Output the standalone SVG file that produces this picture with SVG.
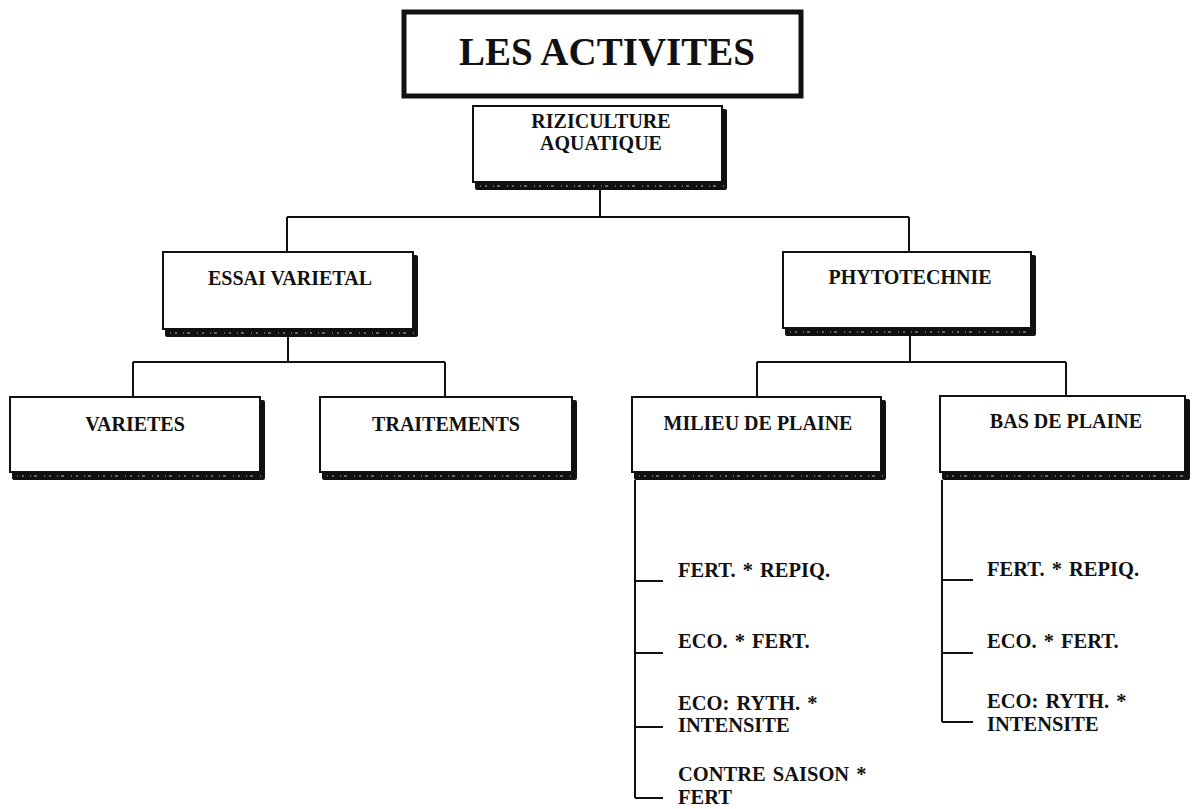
<svg xmlns="http://www.w3.org/2000/svg" width="1193" height="809" viewBox="0 0 1193 809">
  <style>
    .lbl { font-family: "Liberation Serif", "Times New Roman", serif; font-weight: bold; font-size: 20px; fill: #111; }
    .item { font-size: 20.5px; word-spacing: 2px; }
    .ctr { text-anchor: middle; }
    .title { font-family: "Liberation Serif", "Times New Roman", serif; font-weight: bold; font-size: 39px; fill: #111; text-anchor: middle; }
    .box { fill: #fff; stroke: #111; stroke-width: 2; }
    .shadow { fill: #111; }
    .speck { stroke: #bdbdbd; stroke-width: 1; stroke-dasharray: 1 4 2 6 1 3 3 7; fill: none; }
    .wire { stroke: #111; stroke-width: 2; fill: none; }
  </style>
  <rect width="1193" height="809" fill="#fff"/>

  <!-- heading -->
  <g id="title">
    <rect x="404" y="12" width="397" height="84" fill="#fff" stroke="#111" stroke-width="5"/>
    <text class="title" x="607" y="65">LES ACTIVITES</text>
  </g>

  <!-- connectors -->
  <g id="connectors">
    <path class="wire" d="M600 190 V217 M287 217 H909 M287 217 V252 M909 217 V252"/>
    <path class="wire" d="M288 337 V362 M133 362 H445 M133 362 V397 M445 362 V397"/>
    <path class="wire" d="M910 336 V362 M757 362 H1066 M757 362 V397 M1066 362 V396"/>
    <path class="wire" d="M635 480 V798 M635 581 H663 M635 653 H663 M635 727 H663 M635 798 H663"/>
    <path class="wire" d="M942 480 V722 M942 580 H973 M942 653 H973 M942 722 H973"/>
  </g>

  <g id="riziculture">
    <rect class="shadow" x="475" y="109" width="252" height="81" rx="2"/>
    <rect class="box" x="473" y="106" width="249" height="76"/>
    <line class="speck" x1="480" y1="186" x2="724" y2="186"/>
    <text class="lbl ctr" x="601" y="128">RIZICULTURE</text>
    <text class="lbl ctr" x="601" y="150">AQUATIQUE</text>
  </g>

  <g id="essai-varietal">
    <rect class="shadow" x="165" y="255" width="253" height="82" rx="2"/>
    <rect class="box" x="163" y="252" width="250" height="77"/>
    <line class="speck" x1="170" y1="333" x2="415" y2="333"/>
    <text class="lbl ctr" x="290" y="285">ESSAI VARIETAL</text>
  </g>

  <g id="phytotechnie">
    <rect class="shadow" x="785" y="255" width="251" height="81" rx="2"/>
    <rect class="box" x="783" y="252" width="248" height="76"/>
    <line class="speck" x1="790" y1="332" x2="1033" y2="332"/>
    <text class="lbl ctr" x="910" y="284">PHYTOTECHNIE</text>
  </g>

  <g id="varietes">
    <rect class="shadow" x="12" y="400" width="253" height="80" rx="2"/>
    <rect class="box" x="10" y="397" width="250" height="75"/>
    <line class="speck" x1="17" y1="476" x2="262" y2="476"/>
    <text class="lbl ctr" x="135" y="431">VARIETES</text>
  </g>

  <g id="traitements">
    <rect class="shadow" x="322" y="400" width="255" height="80" rx="2"/>
    <rect class="box" x="320" y="397" width="252" height="75"/>
    <line class="speck" x1="327" y1="476" x2="574" y2="476"/>
    <text class="lbl ctr" x="446" y="431">TRAITEMENTS</text>
  </g>

  <g id="milieu-de-plaine">
    <rect class="shadow" x="634" y="400" width="252" height="80" rx="2"/>
    <rect class="box" x="632" y="397" width="249" height="75"/>
    <line class="speck" x1="639" y1="476" x2="883" y2="476"/>
    <text class="lbl ctr" x="758" y="430">MILIEU DE PLAINE</text>
  </g>

  <g id="bas-de-plaine">
    <rect class="shadow" x="942" y="399" width="248" height="81" rx="2"/>
    <rect class="box" x="940" y="396" width="245" height="76"/>
    <line class="speck" x1="947" y1="476" x2="1187" y2="476"/>
    <text class="lbl ctr" x="1066" y="428">BAS DE PLAINE</text>
  </g>

  <g id="milieu-items">
    <text class="lbl item" x="678" y="577">FERT. * REPIQ.</text>
    <text class="lbl item" x="678" y="648">ECO. * FERT.</text>
    <text class="lbl item" x="678" y="710">ECO: RYTH. *</text>
    <text class="lbl item" x="678" y="732">INTENSITE</text>
    <text class="lbl item" x="678" y="781">CONTRE SAISON *</text>
    <text class="lbl item" x="678" y="804">FERT</text>
  </g>

  <g id="bas-items">
    <text class="lbl item" x="987" y="576">FERT. * REPIQ.</text>
    <text class="lbl item" x="987" y="648">ECO. * FERT.</text>
    <text class="lbl item" x="987" y="708">ECO: RYTH. *</text>
    <text class="lbl item" x="987" y="731">INTENSITE</text>
  </g>
</svg>
